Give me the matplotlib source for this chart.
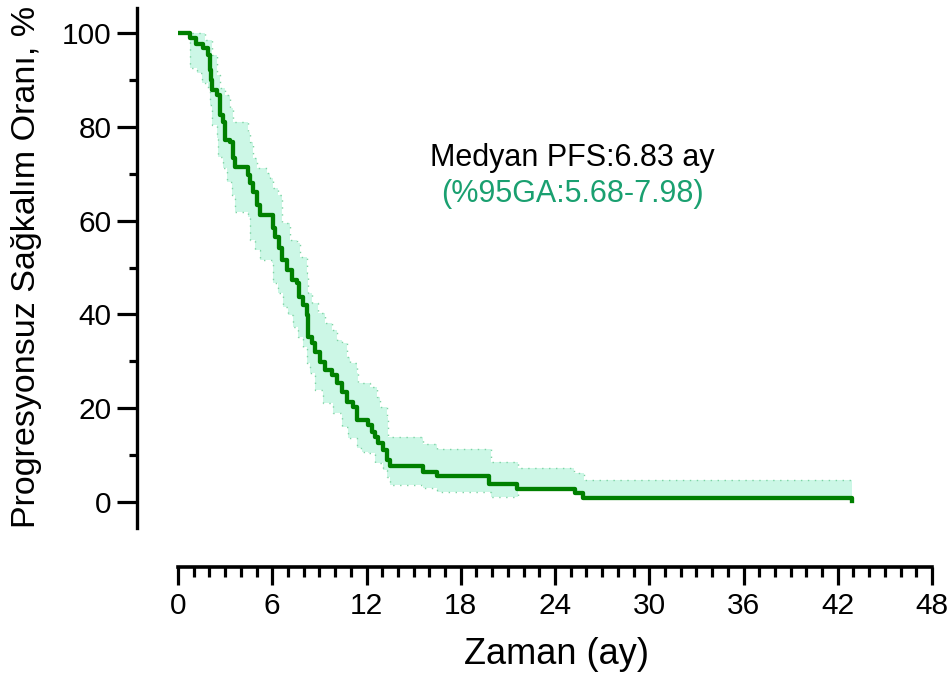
import numpy as np
import matplotlib
matplotlib.use("Agg")
import matplotlib.pyplot as plt
from matplotlib.ticker import MultipleLocator

plt.rcParams['font.family'] = ['Liberation Sans', 'DejaVu Sans']

# Kaplan-Meier step curve (time in months, survival in %)
times = [0, 0.76, 1.15, 1.59, 1.91, 2.04, 2.10, 2.16, 2.48, 2.67,
         2.86, 2.99, 3.31, 3.50, 3.63, 4.46, 4.58, 4.77, 5.03, 5.22,
         6.05, 6.17, 6.43, 6.62, 6.94, 7.26, 7.57, 7.70, 7.96, 8.21,
         8.28, 8.53, 8.72, 9.04, 9.36, 9.80, 10.12, 10.44, 10.76, 11.14,
         11.39, 12.09, 12.35, 12.54, 12.73, 13.05, 13.30, 13.49, 15.60, 16.49,
         19.80, 21.58, 25.27, 25.78, 42.90]
surv = [100, 98.9, 97.7, 96.8, 95.3, 92.1, 90.0, 87.8, 86.8, 82.5,
        81.0, 77.2, 76.8, 73.3, 71.4, 69.7, 68.0, 66.1, 63.3, 61.2,
        58.4, 56.5, 54.2, 51.6, 49.5, 47.3, 46.7, 43.7, 42.0, 39.9,
        35.2, 33.9, 32.0, 29.9, 28.1, 27.1, 25.4, 23.5, 21.3, 20.3,
        17.5, 16.4, 14.9, 13.9, 12.6, 11.1, 9.0, 7.7, 6.4, 5.5,
        3.8, 2.8, 1.9, 0.85, 0.2]

# 95% CI band, upper and lower step boundaries
ci_up_t = [0, 1.72, 2.16, 2.48, 2.67, 2.99, 3.31, 3.50, 4.46, 4.58,
           4.77, 5.03, 5.67, 5.86, 6.05, 6.37, 6.62, 7.13, 7.57, 7.77,
           8.21, 8.28, 8.53, 8.91, 9.36, 9.80, 10.12, 10.44, 10.76, 10.95,
           11.39, 11.46, 12.22, 12.67, 12.86, 13.30, 13.37, 15.60, 16.49, 19.92,
           21.64, 25.21, 25.84]
ci_up = [100, 98.5, 95.3, 91.0, 88.3, 86.8, 84.0, 81.0, 78.9, 76.8,
         73.3, 71.2, 70.1, 69.1, 67.0, 65.5, 59.5, 55.9, 55.2, 52.2,
         48.8, 44.6, 42.4, 40.3, 38.2, 36.7, 34.5, 33.9, 30.9, 29.6,
         27.5, 25.4, 24.5, 22.4, 20.3, 18.1, 13.9, 12.4, 11.3, 8.5,
         7.2, 6.2, 4.7]
ci_lo_t = [0, 0.76, 1.21, 1.53, 1.91, 2.04, 2.16, 2.48, 2.55, 2.86,
           3.12, 3.44, 3.63, 4.46, 4.58, 4.90, 5.22, 5.98, 6.05, 6.37,
           6.68, 7.00, 7.32, 7.64, 7.96, 8.21, 8.40, 8.72, 9.23, 9.87,
           10.44, 10.82, 11.39, 11.71, 12.09, 12.54, 13.05, 13.30, 13.49, 15.60,
           16.49, 19.92, 21.64, 25.27, 25.78]
ci_lo = [100, 92.5, 91.5, 89.3, 88.3, 84.6, 80.4, 77.6, 73.6, 71.2,
         68.2, 65.5, 61.8, 60.8, 55.9, 53.7, 51.6, 51.0, 46.7, 44.6,
         41.6, 39.9, 37.3, 35.2, 33.0, 29.6, 27.5, 23.9, 21.1, 19.0,
         16.0, 13.6, 11.5, 10.7, 10.4, 8.3, 6.8, 5.3, 3.6, 3.0,
         2.1, 1.1, 2.8, 1.9, 0.85]

median_text = "Medyan PFS:6.83 ay"
ci_text = "(%95GA:5.68-7.98)"


def step_xy(t, v, t_end):
    xs, ys = [], []
    for i in range(len(t)):
        nxt = t[i + 1] if i + 1 < len(t) else t_end
        xs += [t[i], nxt]
        ys += [v[i], v[i]]
    return xs, ys


W, H = 952, 676
fig = plt.figure(figsize=(W / 100, H / 100), dpi=100)
ax = fig.add_axes([178 / W, 1 - 528 / H, (932 - 178) / W, (528 - 8) / H])

t_end = times[-1]
ux, uy = step_xy(ci_up_t, ci_up, t_end)
lx, ly = step_xy(ci_lo_t, ci_lo, t_end)
ax.fill(ux + lx[::-1], uy + ly[::-1], color='#ccf7e6', lw=0, zorder=1)
ax.plot(ux, uy, ls=(0, (1, 4)), color='#7fd3a4', lw=1.0, zorder=2)
ax.plot(lx, ly, ls=(0, (1, 4)), color='#7fd3a4', lw=1.0, zorder=2)
ax.step(times, surv, where='post', color='#008000', lw=3.1, zorder=3)

ax.text(25.1, 73.3, median_text, ha='center', va='center', fontsize=22, color='black')
ax.text(25.1, 65.6, ci_text, ha='center', va='center', fontsize=22, color='#1aa070')

ax.set_xlim(0, 48)
ax.set_ylim(-5.5, 105.3)

for s in ['top', 'right']:
    ax.spines[s].set_visible(False)
ax.spines['left'].set_position(('outward', 29.5))
ax.spines['bottom'].set_position(('outward', 28))
ax.spines['bottom'].set_bounds(0, 48)
ax.spines['left'].set_linewidth(2.4)
ax.spines['bottom'].set_linewidth(2.6)

ax.set_xticks(np.arange(0, 49, 6))
ax.xaxis.set_minor_locator(MultipleLocator(1))
ax.set_yticks(np.arange(0, 101, 20))
ax.yaxis.set_minor_locator(MultipleLocator(10))
ax.tick_params(axis='both', which='major', labelsize=21.5, width=2.3, direction='out')
ax.tick_params(axis='y', which='major', length=14.5, pad=4)
ax.tick_params(axis='y', which='minor', length=6, width=2.3)
ax.tick_params(axis='x', which='major', length=13, pad=5)
ax.tick_params(axis='x', which='minor', length=7, width=2.3)

fig.text(27 / W, 1 - 267 / H, "Progresyonsuz Sağkalım Oranı, %", rotation=90,
         ha='center', va='center', fontsize=24.5)
fig.text(557 / W, 1 - 655 / H, "Zaman (ay)", ha='center', va='center', fontsize=26)

fig.savefig("out.png", dpi=100)
